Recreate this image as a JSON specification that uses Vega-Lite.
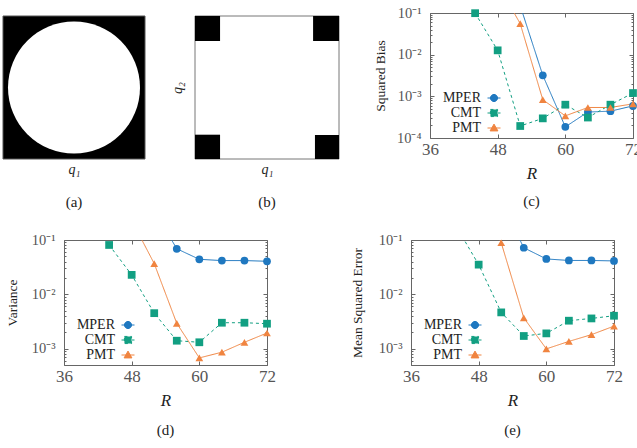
{
  "$schema": "https://vega.github.io/schema/vega-lite/v6.json",
  "padding": {"left": 2, "top": 4, "right": 0, "bottom": 0},
  "config": {
    "font": "Liberation Serif",
    "view": {"stroke": "#666", "strokeWidth": 1},
    "axis": {"domain": false, "grid": false, "tickColor": "#666", "tickWidth": 1, "labelColor": "#555", "titleColor": "#222", "titleFontWeight": "normal", "labelFont": "Liberation Serif", "titleFont": "Liberation Serif", "labelOverlap": false},
    "legend": {"labelFont": "Liberation Serif", "labelFontWeight": "normal", "orient": "none", "title": null, "legendX": 57, "symbolSize": 169, "symbolStrokeWidth": 1, "labelAlign": "right", "labelOffset": -20, "labelFontSize": 14, "labelColor": "#222"},
    "title": {"fontSize": 15, "fontWeight": "normal", "color": "#222", "font": "Liberation Serif"},
    "line": {"strokeWidth": 1},
    "point": {"filled": true, "size": 60}
  },
  "datasets": {
    "bias": [
      {"R": 52, "method": "MPER", "v": 0.15}, {"R": 56, "method": "MPER", "v": 0.0032}, {"R": 60, "method": "MPER", "v": 0.000185}, {"R": 64, "method": "MPER", "v": 0.00042}, {"R": 68, "method": "MPER", "v": 0.00044}, {"R": 72, "method": "MPER", "v": 0.00059},
      {"R": 44, "method": "CMT", "v": 0.099}, {"R": 48, "method": "CMT", "v": 0.0127}, {"R": 52, "method": "CMT", "v": 0.000194}, {"R": 56, "method": "CMT", "v": 0.000296}, {"R": 60, "method": "CMT", "v": 0.00063}, {"R": 64, "method": "CMT", "v": 0.00031}, {"R": 68, "method": "CMT", "v": 0.00063}, {"R": 72, "method": "CMT", "v": 0.0012},
      {"R": 48, "method": "PMT", "v": 0.5}, {"R": 52, "method": "PMT", "v": 0.0555}, {"R": 56, "method": "PMT", "v": 0.00083}, {"R": 60, "method": "PMT", "v": 0.00034}, {"R": 64, "method": "PMT", "v": 0.00054}, {"R": 68, "method": "PMT", "v": 0.00054}, {"R": 72, "method": "PMT", "v": 0.00066}
    ],
    "variance": [
      {"R": 52, "method": "MPER", "v": 0.35}, {"R": 56, "method": "MPER", "v": 0.069}, {"R": 60, "method": "MPER", "v": 0.0441}, {"R": 64, "method": "MPER", "v": 0.0418}, {"R": 68, "method": "MPER", "v": 0.0418}, {"R": 72, "method": "MPER", "v": 0.0406},
      {"R": 44, "method": "CMT", "v": 0.081}, {"R": 48, "method": "CMT", "v": 0.0228}, {"R": 52, "method": "CMT", "v": 0.0045}, {"R": 56, "method": "CMT", "v": 0.0014}, {"R": 60, "method": "CMT", "v": 0.00131}, {"R": 64, "method": "CMT", "v": 0.003}, {"R": 68, "method": "CMT", "v": 0.003}, {"R": 72, "method": "CMT", "v": 0.00288},
      {"R": 48, "method": "PMT", "v": 0.23}, {"R": 52, "method": "PMT", "v": 0.0368}, {"R": 56, "method": "PMT", "v": 0.00292}, {"R": 60, "method": "PMT", "v": 0.000675}, {"R": 64, "method": "PMT", "v": 0.00086}, {"R": 68, "method": "PMT", "v": 0.00131}, {"R": 72, "method": "PMT", "v": 0.00194}
    ],
    "mse": [
      {"R": 52, "method": "MPER", "v": 0.5}, {"R": 56, "method": "MPER", "v": 0.072}, {"R": 60, "method": "MPER", "v": 0.0448}, {"R": 64, "method": "MPER", "v": 0.042}, {"R": 68, "method": "MPER", "v": 0.042}, {"R": 72, "method": "MPER", "v": 0.0412},
      {"R": 44, "method": "CMT", "v": 0.18}, {"R": 48, "method": "CMT", "v": 0.0352}, {"R": 52, "method": "CMT", "v": 0.00465}, {"R": 56, "method": "CMT", "v": 0.00171}, {"R": 60, "method": "CMT", "v": 0.00191}, {"R": 64, "method": "CMT", "v": 0.00327}, {"R": 68, "method": "CMT", "v": 0.0036}, {"R": 72, "method": "CMT", "v": 0.00403},
      {"R": 48, "method": "PMT", "v": 0.73}, {"R": 52, "method": "PMT", "v": 0.089}, {"R": 56, "method": "PMT", "v": 0.0037}, {"R": 60, "method": "PMT", "v": 0.00099}, {"R": 64, "method": "PMT", "v": 0.00136}, {"R": 68, "method": "PMT", "v": 0.00181}, {"R": 72, "method": "PMT", "v": 0.0026}
    ],
    "square": [{"q1lo": -1, "q1hi": 1, "q2lo": -1, "q2hi": 1}],
    "disk": [{"q1": 0, "q2": 0}],
    "frame": [{"q1lo": 0, "q1hi": 1, "q2lo": 0, "q2hi": 1}],
    "corners": [
      {"q1lo": 0, "q1hi": 0.174, "q2lo": 0.825, "q2hi": 1},
      {"q1lo": 0.82, "q1hi": 1, "q2lo": 0.825, "q2hi": 1},
      {"q1lo": 0, "q1hi": 0.174, "q2lo": 0, "q2hi": 0.17},
      {"q1lo": 0.833, "q1hi": 1, "q2lo": 0, "q2hi": 0.168}
    ]
  },
  "resolve": {"scale": {"color": "independent", "shape": "independent", "strokeDash": "independent", "opacity": "independent"}},
  "spacing": 21,
  "vconcat": [
    {
      "resolve": {"scale": {"color": "independent", "shape": "independent", "strokeDash": "independent", "opacity": "independent"}},
      "spacing": 32,
      "hconcat": [
        {
          "spacing": 24,
          "hconcat": [
            {
              "width": 142, "height": 146,
              "view": {"stroke": null},
              "title": {"text": "(a)", "orient": "bottom", "anchor": "middle", "offset": 19},
              "layer": [
                {
                  "data": {"name": "square"},
                  "mark": {"type": "rect", "fill": "black", "stroke": "#555", "strokeWidth": 1},
                  "encoding": {
                    "x": {"field": "q1lo", "type": "quantitative", "scale": {"domain": [-1, 1], "nice": false, "zero": false},
                          "axis": {"title": "q\u2081", "labels": false, "ticks": false, "titleFontStyle": "italic", "titleFontSize": 14, "titlePadding": 3}},
                    "x2": {"field": "q1hi"},
                    "y": {"field": "q2lo", "type": "quantitative", "scale": {"domain": [-1, 1.042], "nice": false, "zero": false}, "axis": null},
                    "y2": {"field": "q2hi"}
                  }
                },
                {
                  "data": {"name": "disk"},
                  "mark": {"type": "point", "shape": "circle", "filled": true, "fill": "white", "strokeWidth": 0, "size": 17424, "opacity": 1},
                  "encoding": {
                    "x": {"field": "q1", "type": "quantitative"},
                    "y": {"field": "q2", "type": "quantitative"}
                  }
                }
              ]
            },
            {
              "width": 144, "height": 146,
              "view": {"stroke": null},
              "title": {"text": "(b)", "orient": "bottom", "anchor": "middle", "offset": 19},
              "layer": [
                {
                  "data": {"name": "frame"},
                  "mark": {"type": "rect", "fill": "white", "stroke": "#777", "strokeWidth": 1},
                  "encoding": {
                    "x": {"field": "q1lo", "type": "quantitative", "scale": {"domain": [0, 1], "nice": false, "zero": false},
                          "axis": {"title": "q\u2081", "labels": false, "ticks": false, "titleFontStyle": "italic", "titleFontSize": 14, "titlePadding": 3}},
                    "x2": {"field": "q1hi"},
                    "y": {"field": "q2lo", "type": "quantitative", "scale": {"domain": [0, 1.021], "nice": false, "zero": false},
                          "axis": {"title": "q\u2082", "labels": false, "ticks": false, "titleFontStyle": "italic", "titleFontSize": 14, "titlePadding": 11, "titleY": 74.5}},
                    "y2": {"field": "q2hi"}
                  }
                },
                {
                  "data": {"name": "corners"},
                  "mark": {"type": "rect", "fill": "black"},
                  "encoding": {
                    "x": {"field": "q1lo", "type": "quantitative"},
                    "x2": {"field": "q1hi"},
                    "y": {"field": "q2lo", "type": "quantitative"},
                    "y2": {"field": "q2hi"}
                  }
                }
              ]
            }
          ]
        },
        {
          "width": 203, "height": 125,
          "title": {"text": "(c)", "orient": "bottom", "anchor": "middle", "offset": 12.5},
          "data": {"name": "bias"},
          "resolve": {"axis": {"x": "independent", "y": "independent"}},
          "layer": [
            {
              "mark": {"type": "line", "clip": true},
              "encoding": {
                "x": {"field": "R", "type": "quantitative", "scale": {"domain": [36, 72], "nice": false, "zero": false},
                      "axis": {"orient": "bottom", "values": [36, 48, 60, 72], "labelFlush": false, "labelFontSize": 17, "tickSize": -4, "labelPadding": 7.5, "title": "R", "titleFontStyle": "italic", "titleFontSize": 17, "titlePadding": 8}},
                "y": {"field": "v", "type": "quantitative", "scale": {"type": "log", "domain": [0.0001, 0.1], "nice": false},
                      "axis": {"orient": "left", "title": "Squared Bias", "titleFontSize": 13.5, "titlePadding": 9, "labelFontSize": 14.5, "labelPadding": 13,
                               "values": [0.0001, 0.0002, 0.0003, 0.0004, 0.0005, 0.0006, 0.0007, 0.0008, 0.0009, 0.001, 0.002, 0.003, 0.004, 0.005, 0.006, 0.007, 0.008, 0.009, 0.01, 0.02, 0.03, 0.04, 0.05, 0.06, 0.07, 0.08, 0.09, 0.1],
                               "labelExpr": "datum.value === 0.1 ? '10\u207b\u00b9' : datum.value === 0.01 ? '10\u207b\u00b2' : datum.value === 0.001 ? '10\u207b\u00b3' : datum.value === 0.0001 ? '10\u207b\u2074' : ''",
                               "tickSize": {"condition": {"test": "indexof([0.1, 0.01, 0.001, 0.0001], datum.value) >= 0", "value": -4}, "value": -2}}},
                "color": {"field": "method", "type": "nominal", "scale": {"domain": ["MPER", "CMT", "PMT"], "range": ["#1f78c0", "#129f82", "#f08440"]},
                          "legend": {"values": ["MPER"], "legendY": 78, "symbolType": "M-1,0H1M0.55,0A0.55,0.55,0,1,1,-0.55,0A0.55,0.55,0,1,1,0.55,0Z", "symbolFillColor": "#1f78c0"}},
                "strokeDash": {"field": "method", "type": "nominal", "scale": {"domain": ["CMT", "MPER", "PMT"], "range": [[3, 3], [1, 0], [1, 0]]},
                               "legend": {"values": ["CMT"], "legendY": 93, "symbolType": "M-1,0H-0.6M0.6,0H1M-0.55,-0.55H0.55V0.55H-0.55Z", "symbolFillColor": "#129f82", "symbolStrokeColor": "#129f82"}}
              }
            },
            {
              "transform": [{"filter": "datum.v <= 0.1001"}],
              "mark": {"type": "point"},
              "encoding": {
                "x": {"field": "R", "type": "quantitative", "axis": {"orient": "top", "values": [36, 48, 60, 72], "labels": false, "tickSize": -4, "title": null}},
                "y": {"field": "v", "type": "quantitative",
                      "axis": {"orient": "right", "labels": false, "title": null,
                               "values": [0.0001, 0.0002, 0.0003, 0.0004, 0.0005, 0.0006, 0.0007, 0.0008, 0.0009, 0.001, 0.002, 0.003, 0.004, 0.005, 0.006, 0.007, 0.008, 0.009, 0.01, 0.02, 0.03, 0.04, 0.05, 0.06, 0.07, 0.08, 0.09, 0.1],
                               "tickSize": {"condition": {"test": "indexof([0.1, 0.01, 0.001, 0.0001], datum.value) >= 0", "value": -4}, "value": -2}}},
                "color": {"field": "method", "type": "nominal", "legend": null},
                "shape": {"field": "method", "type": "nominal", "scale": {"domain": ["PMT", "CMT", "MPER"], "range": ["triangle-up", "square", "circle"]}, "legend": null},
                "opacity": {"field": "method", "type": "nominal", "scale": {"domain": ["PMT", "MPER", "CMT"], "range": [1, 1, 1]},
                            "legend": {"values": ["PMT"], "legendY": 108, "symbolType": "M-1,0H1M0,-0.6L0.6,0.45H-0.6Z", "symbolFillColor": "#f08440", "symbolStrokeColor": "#f08440"}}
              }
            }
          ]
        }
      ]
    },
    {
      "resolve": {"scale": {"color": "independent", "shape": "independent", "strokeDash": "independent", "opacity": "independent"}},
      "spacing": 0,
      "hconcat": [
        {
          "width": 2, "height": 1,
          "view": {"stroke": null},
          "data": {"values": []},
          "mark": "point"
        },
        {
          "resolve": {"scale": {"color": "independent", "shape": "independent", "strokeDash": "independent", "opacity": "independent"}},
          "spacing": 73,
          "hconcat": [
            {
              "width": 203, "height": 125,
              "title": {"text": "(d)", "orient": "bottom", "anchor": "middle", "offset": 14.5},
              "data": {"name": "variance"},
              "resolve": {"axis": {"x": "independent", "y": "independent"}},
              "layer": [
                {
                  "mark": {"type": "line", "clip": true},
                  "encoding": {
                    "x": {"field": "R", "type": "quantitative", "scale": {"domain": [36, 72], "nice": false, "zero": false},
                          "axis": {"orient": "bottom", "values": [36, 48, 60, 72], "labelFlush": false, "labelFontSize": 17, "tickSize": -4, "labelPadding": 7.5, "title": "R", "titleFontStyle": "italic", "titleFontSize": 17, "titlePadding": 8}},
                    "y": {"field": "v", "type": "quantitative", "scale": {"type": "log", "domain": [0.0005, 0.1], "nice": false},
                          "axis": {"orient": "left", "title": "Variance", "titleFontSize": 13.5, "titlePadding": 11.5, "labelFontSize": 14.5, "labelPadding": 13,
                                   "values": [0.0005, 0.0006, 0.0007, 0.0008, 0.0009, 0.001, 0.002, 0.003, 0.004, 0.005, 0.006, 0.007, 0.008, 0.009, 0.01, 0.02, 0.03, 0.04, 0.05, 0.06, 0.07, 0.08, 0.09, 0.1],
                                   "labelExpr": "datum.value === 0.1 ? '10\u207b\u00b9' : datum.value === 0.01 ? '10\u207b\u00b2' : datum.value === 0.001 ? '10\u207b\u00b3' : ''",
                                   "tickSize": {"condition": {"test": "indexof([0.1, 0.01, 0.001], datum.value) >= 0", "value": -4}, "value": -2}}},
                    "color": {"field": "method", "type": "nominal", "scale": {"domain": ["MPER", "CMT", "PMT"], "range": ["#1f78c0", "#129f82", "#f08440"]},
                              "legend": {"values": ["MPER"], "legendY": 78, "symbolType": "M-1,0H1M0.55,0A0.55,0.55,0,1,1,-0.55,0A0.55,0.55,0,1,1,0.55,0Z", "symbolFillColor": "#1f78c0"}},
                    "strokeDash": {"field": "method", "type": "nominal", "scale": {"domain": ["CMT", "MPER", "PMT"], "range": [[3, 3], [1, 0], [1, 0]]},
                                   "legend": {"values": ["CMT"], "legendY": 93, "symbolType": "M-1,0H-0.6M0.6,0H1M-0.55,-0.55H0.55V0.55H-0.55Z", "symbolFillColor": "#129f82", "symbolStrokeColor": "#129f82"}}
                  }
                },
                {
                  "transform": [{"filter": "datum.v <= 0.1001"}],
                  "mark": {"type": "point"},
                  "encoding": {
                    "x": {"field": "R", "type": "quantitative", "axis": {"orient": "top", "values": [36, 48, 60, 72], "labels": false, "tickSize": -4, "title": null}},
                    "y": {"field": "v", "type": "quantitative",
                          "axis": {"orient": "right", "labels": false, "title": null,
                                   "values": [0.0005, 0.0006, 0.0007, 0.0008, 0.0009, 0.001, 0.002, 0.003, 0.004, 0.005, 0.006, 0.007, 0.008, 0.009, 0.01, 0.02, 0.03, 0.04, 0.05, 0.06, 0.07, 0.08, 0.09, 0.1],
                                   "tickSize": {"condition": {"test": "indexof([0.1, 0.01, 0.001], datum.value) >= 0", "value": -4}, "value": -2}}},
                    "color": {"field": "method", "type": "nominal", "legend": null},
                    "shape": {"field": "method", "type": "nominal", "scale": {"domain": ["PMT", "CMT", "MPER"], "range": ["triangle-up", "square", "circle"]}, "legend": null},
                    "opacity": {"field": "method", "type": "nominal", "scale": {"domain": ["PMT", "MPER", "CMT"], "range": [1, 1, 1]},
                                "legend": {"values": ["PMT"], "legendY": 108, "symbolType": "M-1,0H1M0,-0.6L0.6,0.45H-0.6Z", "symbolFillColor": "#f08440", "symbolStrokeColor": "#f08440"}}
                  }
                }
              ]
            },
            {
              "width": 203, "height": 125,
              "title": {"text": "(e)", "orient": "bottom", "anchor": "middle", "offset": 14.5},
              "data": {"name": "mse"},
              "resolve": {"axis": {"x": "independent", "y": "independent"}},
              "layer": [
                {
                  "mark": {"type": "line", "clip": true},
                  "encoding": {
                    "x": {"field": "R", "type": "quantitative", "scale": {"domain": [36, 72], "nice": false, "zero": false},
                          "axis": {"orient": "bottom", "values": [36, 48, 60, 72], "labelFlush": false, "labelFontSize": 17, "tickSize": -4, "labelPadding": 7.5, "title": "R", "titleFontStyle": "italic", "titleFontSize": 17, "titlePadding": 8}},
                    "y": {"field": "v", "type": "quantitative", "scale": {"type": "log", "domain": [0.0005, 0.1], "nice": false},
                          "axis": {"orient": "left", "title": "Mean Squared Error", "titleFontSize": 13.5, "titlePadding": 14, "labelFontSize": 14.5, "labelPadding": 13,
                                   "values": [0.0005, 0.0006, 0.0007, 0.0008, 0.0009, 0.001, 0.002, 0.003, 0.004, 0.005, 0.006, 0.007, 0.008, 0.009, 0.01, 0.02, 0.03, 0.04, 0.05, 0.06, 0.07, 0.08, 0.09, 0.1],
                                   "labelExpr": "datum.value === 0.1 ? '10\u207b\u00b9' : datum.value === 0.01 ? '10\u207b\u00b2' : datum.value === 0.001 ? '10\u207b\u00b3' : ''",
                                   "tickSize": {"condition": {"test": "indexof([0.1, 0.01, 0.001], datum.value) >= 0", "value": -4}, "value": -2}}},
                    "color": {"field": "method", "type": "nominal", "scale": {"domain": ["MPER", "CMT", "PMT"], "range": ["#1f78c0", "#129f82", "#f08440"]},
                              "legend": {"values": ["MPER"], "legendY": 78, "symbolType": "M-1,0H1M0.55,0A0.55,0.55,0,1,1,-0.55,0A0.55,0.55,0,1,1,0.55,0Z", "symbolFillColor": "#1f78c0"}},
                    "strokeDash": {"field": "method", "type": "nominal", "scale": {"domain": ["CMT", "MPER", "PMT"], "range": [[3, 3], [1, 0], [1, 0]]},
                                   "legend": {"values": ["CMT"], "legendY": 93, "symbolType": "M-1,0H-0.6M0.6,0H1M-0.55,-0.55H0.55V0.55H-0.55Z", "symbolFillColor": "#129f82", "symbolStrokeColor": "#129f82"}}
                  }
                },
                {
                  "transform": [{"filter": "datum.v <= 0.1001"}],
                  "mark": {"type": "point"},
                  "encoding": {
                    "x": {"field": "R", "type": "quantitative", "axis": {"orient": "top", "values": [36, 48, 60, 72], "labels": false, "tickSize": -4, "title": null}},
                    "y": {"field": "v", "type": "quantitative",
                          "axis": {"orient": "right", "labels": false, "title": null,
                                   "values": [0.0005, 0.0006, 0.0007, 0.0008, 0.0009, 0.001, 0.002, 0.003, 0.004, 0.005, 0.006, 0.007, 0.008, 0.009, 0.01, 0.02, 0.03, 0.04, 0.05, 0.06, 0.07, 0.08, 0.09, 0.1],
                                   "tickSize": {"condition": {"test": "indexof([0.1, 0.01, 0.001], datum.value) >= 0", "value": -4}, "value": -2}}},
                    "color": {"field": "method", "type": "nominal", "legend": null},
                    "shape": {"field": "method", "type": "nominal", "scale": {"domain": ["PMT", "CMT", "MPER"], "range": ["triangle-up", "square", "circle"]}, "legend": null},
                    "opacity": {"field": "method", "type": "nominal", "scale": {"domain": ["PMT", "MPER", "CMT"], "range": [1, 1, 1]},
                                "legend": {"values": ["PMT"], "legendY": 108, "symbolType": "M-1,0H1M0,-0.6L0.6,0.45H-0.6Z", "symbolFillColor": "#f08440", "symbolStrokeColor": "#f08440"}}
                  }
                }
              ]
            }
          ]
        }
      ]
    }
  ]
}
